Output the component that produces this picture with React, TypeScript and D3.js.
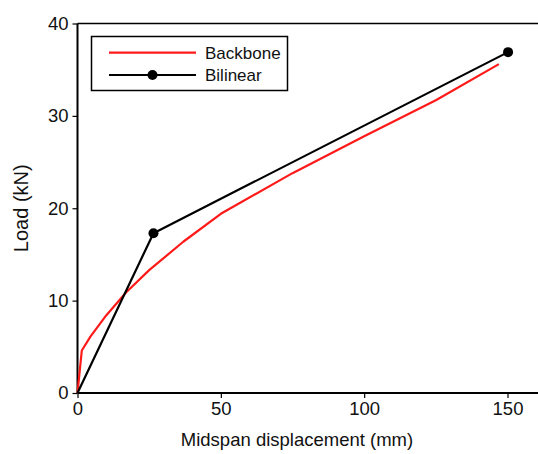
import { useEffect, useRef } from 'react';
import * as d3 from 'd3';

// Backbone curve (mm, kN)
const backboneX = [0, 1.5, 4.5, 10, 17, 25, 37, 50, 75, 100, 125, 147];
const backboneY = [0, 4.6, 6.1, 8.4, 10.9, 13.3, 16.4, 19.4, 23.8, 27.8, 31.7, 35.6];

// Bilinear idealisation
const bilinearX = [0, 26.5, 150.2];
const bilinearY = [0, 17.3, 36.9];

const xTicks = [0, 50, 100, 150];
const yTicks = [0, 10, 20, 30, 40];

const seriesNames = ['Backbone', 'Bilinear'];
const seriesColors = ['#ff1a1a', '#000000'];

export default function App() {
    const svgRef = useRef<SVGSVGElement>(null);

    useEffect(() => {
        const width = 538;
        const height = 454;
        const margin = { left: 77.5, top: 23.5, right: 0, bottom: 61 };
        const font = 'Liberation Sans, Arial, Helvetica, sans-serif';

        const svg = d3.select(svgRef.current);
        svg.selectAll('*').remove();
        svg.attr('width', width).attr('height', height).attr('viewBox', `0 0 ${width} ${height}`);

        const x = d3.scaleLinear().domain([0, 150]).range([margin.left, margin.left + 430]);
        const y = d3.scaleLinear().domain([0, 40]).range([height - margin.bottom, margin.top]);

        // Frame (top and right edges, right one runs off the picture)
        svg.append('path')
            .attr('d', `M${margin.left},${margin.top}H${width + 2}V${y(0)}`)
            .attr('fill', 'none')
            .attr('stroke', '#000')
            .attr('stroke-width', 1.5);

        // Axes
        const xAxis = svg.append('g')
            .attr('transform', `translate(0,${y(0)})`)
            .call(d3.axisBottom(x).tickValues(xTicks).tickSize(5).tickPadding(4));
        const yAxis = svg.append('g')
            .attr('transform', `translate(${margin.left},0)`)
            .call(d3.axisLeft(y).tickValues(yTicks).tickSize(5).tickPadding(4));

        [xAxis, yAxis].forEach((ax) => {
            ax.select('.domain').remove();
            ax.selectAll('line').attr('stroke', '#000').attr('stroke-width', 1.2);
            ax.selectAll('text')
                .attr('fill', '#111')
                .style('font-family', font)
                .style('font-size', '18.5px');
        });

        svg.append('line')
            .attr('x1', margin.left).attr('x2', width + 2)
            .attr('y1', y(0)).attr('y2', y(0))
            .attr('stroke', '#000').attr('stroke-width', 2);
        svg.append('line')
            .attr('x1', margin.left).attr('x2', margin.left)
            .attr('y1', margin.top).attr('y2', y(0))
            .attr('stroke', '#000').attr('stroke-width', 2);

        // Axis titles
        svg.append('text')
            .attr('x', 297)
            .attr('y', 445.5)
            .attr('text-anchor', 'middle')
            .style('font-family', font)
            .style('font-size', '18.5px')
            .attr('fill', '#111')
            .text('Midspan displacement (mm)');

        svg.append('text')
            .attr('transform', `translate(28,${y(20)}) rotate(-90)`)
            .attr('text-anchor', 'middle')
            .style('font-family', font)
            .style('font-size', '20px')
            .attr('fill', '#111')
            .text('Load (kN)');

        const line = d3.line<[number, number]>()
            .x((d) => x(d[0]))
            .y((d) => y(d[1]));

        const backbone = backboneX.map((v, i) => [v, backboneY[i]] as [number, number]);
        const bilinear = bilinearX.map((v, i) => [v, bilinearY[i]] as [number, number]);

        svg.append('path')
            .attr('d', line(backbone))
            .attr('fill', 'none')
            .attr('stroke', seriesColors[0])
            .attr('stroke-width', 2.2)
            .attr('stroke-linejoin', 'round');

        svg.append('path')
            .attr('d', line(bilinear))
            .attr('fill', 'none')
            .attr('stroke', seriesColors[1])
            .attr('stroke-width', 2.2)
            .attr('stroke-linejoin', 'round');

        svg.selectAll('.pt')
            .data(bilinear.slice(1))
            .enter()
            .append('circle')
            .attr('cx', (d) => x(d[0]))
            .attr('cy', (d) => y(d[1]))
            .attr('r', 5)
            .attr('fill', '#000');

        // Legend
        const lg = svg.append('g');
        lg.append('rect')
            .attr('x', 91.5).attr('y', 36.5)
            .attr('width', 196).attr('height', 54)
            .attr('fill', '#fff')
            .attr('stroke', '#000')
            .attr('stroke-width', 1.5);

        seriesNames.forEach((name, i) => {
            const ly = 52.7 + i * 22.3;
            lg.append('line')
                .attr('x1', 109).attr('x2', 196)
                .attr('y1', ly).attr('y2', ly)
                .attr('stroke', seriesColors[i])
                .attr('stroke-width', 2.2);
            if (i === 1) {
                lg.append('circle').attr('cx', 152.5).attr('cy', ly).attr('r', 5).attr('fill', '#000');
            }
            lg.append('text')
                .attr('x', 205)
                .attr('y', ly + 6.2)
                .style('font-family', font)
                .style('font-size', '17px')
                .attr('fill', '#111')
                .text(name);
        });
    }, []);

    return (
        <div style={{ position: 'absolute', left: 0, top: 0 }}>
            <svg ref={svgRef}></svg>
        </div>
    );
}
